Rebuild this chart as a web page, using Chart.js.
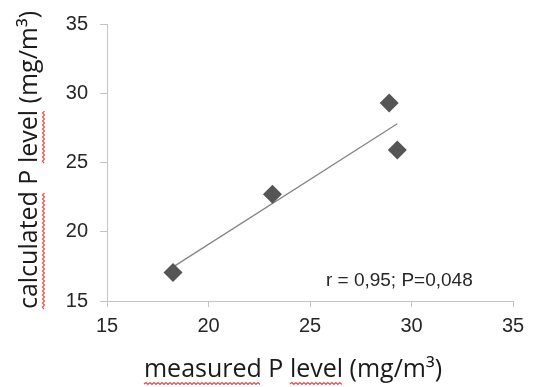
<!DOCTYPE html>
<html lang="en">
<head>
<meta charset="UTF-8">
<title>measured vs calculated P level</title>
<script src="https://cdn.jsdelivr.net/npm/chart.js"></script>
<style>
  html, body { margin: 0; padding: 0; background: #fff; }
  #wrap { width: 535px; height: 387px; }
</style>
</head>
<body>
<div id="wrap"><canvas id="myChart" width="535" height="387"></canvas></div>
<script>
// values
const measured = [18.25, 23.15, 28.9, 29.3]
const calculated = [17.05, 22.7, 29.3, 25.9]
// trend line end points
const trendX = [18.3, 29.3]
const trendY = [17.5, 27.8]
const axisTicks = [15, 20, 25, 30, 35]

const xTitle = 'measured P level (mg/m³)'
const yTitle = 'calculated P level (mg/m³)'
const xFlagged = ['measured', 'level']
const yFlagged = ['calculated', 'level']
const statsText = 'r = 0,95; P=0,048'

const tickFont = { family: '"Liberation Sans", Arial, sans-serif', size: 20 }
const titleFont = '25px "Open Sans", sans-serif'

function squiggle(ctx, x0, x1, y) {
    ctx.save()
    ctx.strokeStyle = '#ec4b4b'
    ctx.lineWidth = 1.2
    ctx.beginPath()
    let up = true
    ctx.moveTo(x0, y)
    for (let x = x0 + 2; x <= x1; x += 2) {
        ctx.lineTo(x, up ? y - 1.5 : y + 0.5)
        up = !up
    }
    ctx.stroke()
    ctx.restore()
}

// draws a title centred at (cx, baseline) in the current frame, with spell-check waves
function drawTitle(ctx, text, flagged, cx, base) {
    ctx.font = titleFont
    ctx.fillStyle = '#1a1a1a'
    ctx.textAlign = 'left'
    ctx.textBaseline = 'alphabetic'
    const w = ctx.measureText(text).width
    const x0 = cx - w / 2
    ctx.fillText(text, x0, base)
    flagged.forEach(word => {
        const i = text.indexOf(word)
        const a = x0 + ctx.measureText(text.slice(0, i)).width
        const b = a + ctx.measureText(word).width
        squiggle(ctx, a, b, base + 7)
    })
}

const textPlugin = {
    id: 'texts',
    afterDraw(chart) {
        const ctx = chart.ctx
        const xs = chart.scales.x
        const ys = chart.scales.y

        // r / P annotation
        ctx.save()
        ctx.font = '19px "Liberation Sans", Arial, sans-serif'
        ctx.fillStyle = '#262626'
        ctx.textAlign = 'center'
        ctx.textBaseline = 'middle'
        ctx.fillText(statsText, xs.getPixelForValue(29.4), ys.getPixelForValue(16.45))
        ctx.restore()

        // x title
        ctx.save()
        drawTitle(ctx, xTitle, xFlagged, 293, 377)
        ctx.restore()

        // y title (rotated)
        ctx.save()
        ctx.translate(37, 160)
        ctx.rotate(-Math.PI / 2)
        drawTitle(ctx, yTitle, yFlagged, 0, 0)
        ctx.restore()
    }
}

const axisGrey = '#c4c4c4'

var ctx = document.getElementById('myChart').getContext('2d')
var chart = new Chart(ctx, {
    type: 'scatter',
    data: {
        datasets: [{
            data: measured.map((x, i) => ({ x: x, y: calculated[i] })),
            pointStyle: 'rectRot',
            pointRadius: 9.5,
            pointHoverRadius: 9.5,
            backgroundColor: '#555555',
            borderWidth: 0,
            order: 1
        }, {
            type: 'line',
            data: trendX.map((x, i) => ({ x: x, y: trendY[i] })),
            borderColor: '#858585',
            borderWidth: 1.3,
            pointRadius: 0,
            fill: false,
            order: 2
        }]
    },
    options: {
        responsive: false,
        animation: false,
        events: [],
        layout: { padding: { left: 0, top: 23, right: 22, bottom: 0 } },
        plugins: {
            legend: { display: false },
            tooltip: { enabled: false }
        },
        scales: {
            x: {
                type: 'linear',
                min: 15,
                max: 35,
                afterBuildTicks: s => { s.ticks = axisTicks.map(v => ({ value: v })) },
                afterFit: s => { s.height = 86 },
                grid: { drawOnChartArea: false, tickLength: 6, color: axisGrey },
                border: { color: axisGrey, width: 1 },
                ticks: { padding: 7, color: '#262626', font: tickFont, maxRotation: 0 }
            },
            y: {
                type: 'linear',
                min: 15,
                max: 35,
                afterBuildTicks: s => { s.ticks = axisTicks.map(v => ({ value: v })) },
                afterFit: s => { s.width = 107 },
                grid: { drawOnChartArea: false, tickLength: 7, color: axisGrey },
                border: { color: axisGrey, width: 1 },
                ticks: { padding: 12, color: '#262626', font: tickFont }
            }
        }
    },
    plugins: [textPlugin]
})
</script>
</body>
</html>
